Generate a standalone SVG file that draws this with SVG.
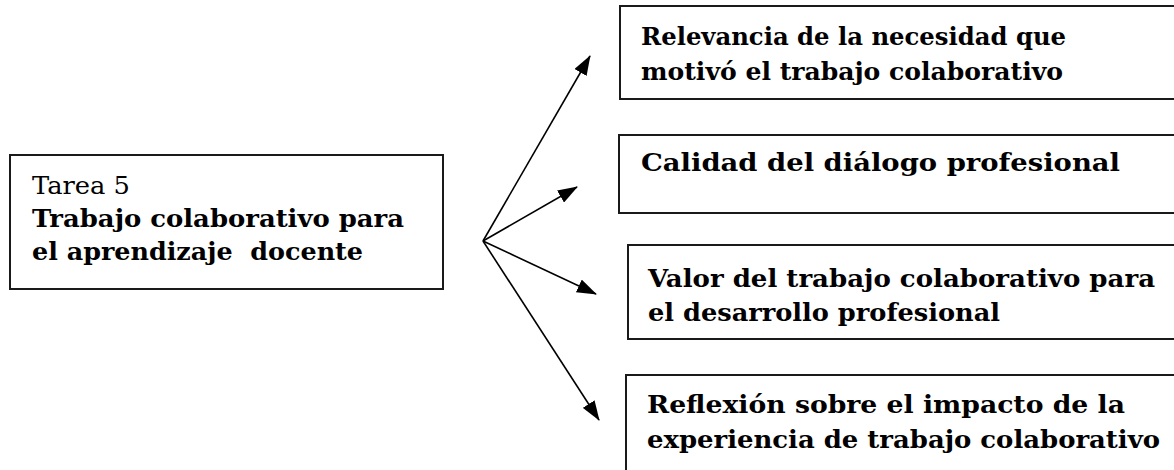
<svg xmlns="http://www.w3.org/2000/svg" width="1174" height="470" viewBox="0 0 1174 470">
<defs>
<style>
.box{fill:#fff;stroke:#1a1a1a;stroke-width:2}
.t{font-family:"DejaVu Serif","Liberation Serif",serif;font-size:24px;fill:#000}
.b{font-weight:bold}
.c{stroke:#000;stroke-width:1.6;fill:none;marker-end:url(#ah)}
</style>
<marker id="ah" viewBox="0 0 20 14" refX="19" refY="7" markerWidth="20" markerHeight="14" markerUnits="userSpaceOnUse" orient="auto">
<path d="M0,0 L20,7 L0,14 Z" fill="#000"/>
</marker>
</defs>
<rect width="1174" height="470" fill="#fff"/>
<g id="connectors">
<line class="c" x1="483" y1="241" x2="590" y2="56"/>
<line class="c" x1="483" y1="241" x2="577" y2="187"/>
<line class="c" x1="483" y1="241" x2="596" y2="294"/>
<line class="c" x1="483" y1="241" x2="599" y2="420"/>
</g>
<g id="node-tarea">
<rect class="box" x="10" y="155" width="433" height="134"/>
<text class="t" x="32" y="194" textLength="98" lengthAdjust="spacingAndGlyphs">Tarea 5</text>
<text class="t b" x="32" y="227" textLength="372" lengthAdjust="spacingAndGlyphs">Trabajo colaborativo para</text>
<text class="t b" x="32" y="260" textLength="331" lengthAdjust="spacingAndGlyphs">el aprendizaje&#160; docente</text>
</g>
<g id="node-relevancia">
<rect class="box" x="620" y="6" width="570" height="93"/>
<text class="t b" x="641" y="45" textLength="425" lengthAdjust="spacingAndGlyphs">Relevancia de la necesidad que</text>
<text class="t b" x="641" y="80" textLength="422" lengthAdjust="spacingAndGlyphs">motivó el trabajo colaborativo</text>
</g>
<g id="node-calidad">
<rect class="box" x="619" y="135" width="570" height="78"/>
<text class="t b" x="641" y="171" textLength="479" lengthAdjust="spacingAndGlyphs">Calidad del diálogo profesional</text>
</g>
<g id="node-valor">
<rect class="box" x="628" y="245" width="560" height="94"/>
<text class="t b" x="648" y="287" textLength="507" lengthAdjust="spacingAndGlyphs">Valor del trabajo colaborativo para</text>
<text class="t b" x="648" y="321" textLength="352" lengthAdjust="spacingAndGlyphs">el desarrollo profesional</text>
</g>
<g id="node-reflexion">
<rect class="box" x="626" y="375" width="560" height="110"/>
<text class="t b" x="647" y="413" textLength="478" lengthAdjust="spacingAndGlyphs">Reflexión sobre el impacto de la</text>
<text class="t b" x="647" y="448" textLength="513" lengthAdjust="spacingAndGlyphs">experiencia de trabajo colaborativo</text>
</g>
</svg>
